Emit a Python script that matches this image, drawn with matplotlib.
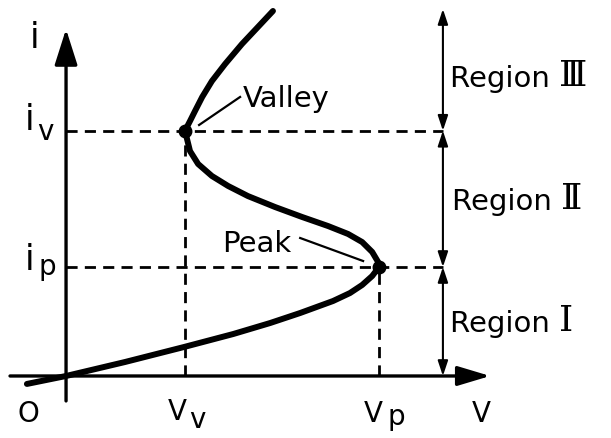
import matplotlib.pyplot as plt

# characteristic points (v normalised to Vp, i normalised to ip)
Vp, Vv = 1.0, 0.38
ip, iv = 1.0, 2.25

# S-shaped curve, read along the trace from the bottom left to the top end
curve_v = [-0.125, 0.0, 0.188, 0.377, 0.534, 0.652, 0.748, 0.853, 0.907,
           0.946, 0.978, 1.0,
           0.997, 0.978, 0.946, 0.901, 0.837, 0.754, 0.668, 0.581, 0.518,
           0.466, 0.422, 0.396, 0.38,
           0.396, 0.412, 0.435, 0.466, 0.508, 0.562, 0.613, 0.661]
curve_i = [-0.073, 0.0, 0.128, 0.266, 0.385, 0.486, 0.578, 0.688, 0.761,
           0.835, 0.917, 1.0,
           1.046, 1.138, 1.229, 1.303, 1.376, 1.459, 1.550, 1.651, 1.743,
           1.835, 1.945, 2.064, 2.25,
           2.339, 2.431, 2.560, 2.706, 2.862, 3.046, 3.202, 3.349]

v_region = 1.204      # where the region arrows stand
i_top = 3.367

fig = plt.figure(figsize=(6.11, 4.39), dpi=100)
ax = fig.add_axes([0, 0, 1, 1])
ax.set_xlim(-0.211, 1.741)
ax.set_ylim(-0.569, 3.459)
ax.axis('off')

FS = 20
txt = dict(fontsize=FS, family='DejaVu Sans', color='k', va='baseline')
big_i = dict(fontsize=25, family='DejaVu Sans', color='k', va='baseline', ha='center')

# axes with arrows
ax.annotate('', xy=(0, 3.183), xytext=(0, -0.229),
            arrowprops=dict(arrowstyle='-|>,head_length=1.1,head_width=0.35',
                            lw=2.4, color='k', shrinkA=0, shrinkB=0, mutation_scale=20))
ax.annotate('', xy=(1.355, 0), xytext=(-0.179, 0),
            arrowprops=dict(arrowstyle='-|>,head_length=1.0,head_width=0.3',
                            lw=2.4, color='k', shrinkA=0, shrinkB=0, mutation_scale=20))

# dashed guide lines
dash = dict(color='k', lw=2.0, ls=(0, (4, 2.6)))
ax.plot([0, v_region], [iv, iv], **dash)
ax.plot([0, v_region], [ip, ip], **dash)
ax.plot([Vv, Vv], [0, iv], **dash)
ax.plot([Vp, Vp], [0, ip], **dash)

# region arrows
bounds = [0, ip, iv, i_top]
for lo, hi in zip(bounds[:-1], bounds[1:]):
    ax.annotate('', xy=(v_region, hi), xytext=(v_region, lo),
                arrowprops=dict(arrowstyle='<|-|>,head_length=0.45,head_width=0.15',
                                lw=1.5, color='k', shrinkA=0, shrinkB=0, mutation_scale=20))

# the characteristic
ax.plot(curve_v, curve_i, color='k', lw=4.3, solid_capstyle='round',
        solid_joinstyle='round')
ax.plot([Vv, Vp], [iv, ip], 'o', color='k', ms=9)

# leaders for Valley and Peak
ax.plot([0.425, 0.556], [2.303, 2.560], color='k', lw=1.6)
ax.plot([0.748, 0.949], [1.266, 1.055], color='k', lw=1.6)
ax.text(0.565, 2.477, 'Valley', ha='left', fontsize=21, family='DejaVu Sans', va='baseline')
ax.text(0.498, 1.147, 'Peak', ha='left', fontsize=21, family='DejaVu Sans', va='baseline')

# region labels
for v0, i0, num in [(1.227, 2.661, '\u2162'), (1.233, 1.532, '\u2161'), (1.227, 0.413, '\u2160')]:
    t = ax.text(v0, i0, 'Region ', ha='left', fontsize=21, family='DejaVu Sans', va='baseline')
    ax.annotate(num, xy=(1, 0), xycoords=t, va='bottom', ha='left',
                fontsize=26, family='DejaVu Serif')

# axis symbols
ax.text(-0.099, 3.018, 'i', **big_i)
ax.text(-0.115, 2.266, 'i', **big_i)
ax.text(-0.067, 2.174, 'v', ha='center', **txt)
ax.text(-0.115, 0.982, 'i', **big_i)
ax.text(-0.061, 0.936, 'p', ha='center', **txt)
ax.text(-0.121, -0.413, 'O', ha='center', **txt)
ax.text(0.355, -0.394, 'V', ha='center', **txt)
ax.text(0.419, -0.468, 'v', ha='center', **txt)
ax.text(0.981, -0.413, 'V', ha='center', **txt)
ax.text(1.054, -0.440, 'p', ha='center', **txt)
ax.text(1.326, -0.413, 'V', ha='center', **txt)

fig.savefig('out.png', dpi=100)
